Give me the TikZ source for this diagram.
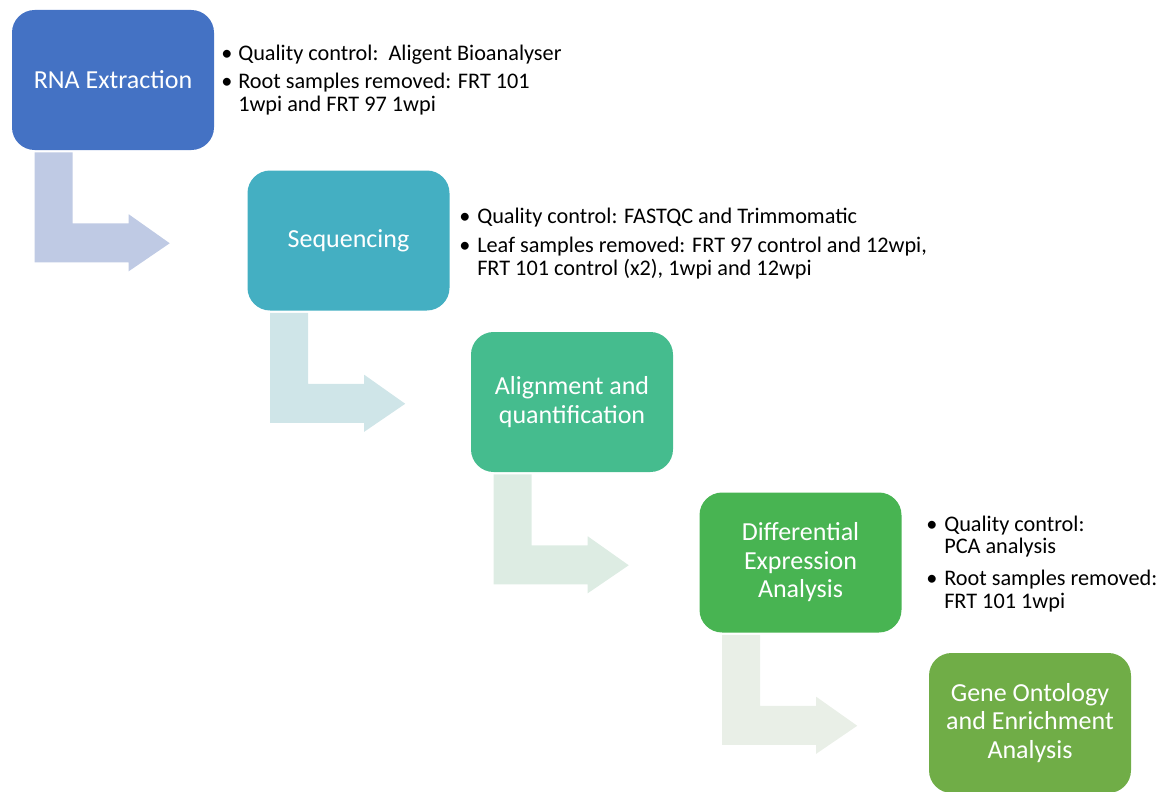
\documentclass[tikz,border=0pt]{standalone}
\usepackage{fontspec}
\setmainfont{Carlito}
\usetikzlibrary{calc}
\definecolor{c1}{RGB}{68,114,196}
\definecolor{c2}{RGB}{68,175,194}
\definecolor{c3}{RGB}{69,188,142}
\definecolor{c4}{RGB}{72,180,82}
\definecolor{c5}{RGB}{112,173,71}
\definecolor{a1}{RGB}{191,202,228}
\definecolor{a2}{RGB}{207,229,232}
\definecolor{a3}{RGB}{221,236,227}
\definecolor{a4}{RGB}{233,239,231}
\newcommand\bentarrow[2]{%
  \fill[#2] ($(#1.south west)+(23,2)$) -- ($(#1.south west)+(61,2)$)
    -- ($(#1.south west)+(61,73)$) -- ($(#1.south west)+(117,73)$)
    -- ($(#1.south west)+(117,64)$) -- ($(#1.south west)+(158,93)$)
    -- ($(#1.south west)+(117,121)$) -- ($(#1.south west)+(117,112)$)
    -- ($(#1.south west)+(23,112)$) -- cycle;}
\begin{document}
\begin{tikzpicture}[x=0.75pt,y=-0.75pt,
  box/.style={rounded corners=17pt, fill=#1, minimum width=151.5pt, minimum height=105pt,
    inner sep=0pt, text=white, align=center, font=\fontsize{19.5}{21.4}\selectfont},
  bl/.style={anchor=base west, inner sep=0pt, font=\fontsize{16.7}{17.4}\selectfont},
  dot/.style={anchor=base, inner sep=0pt, font=\fontsize{16.7}{17.4}\selectfont}]
\useasboundingbox (0,0) rectangle (1175,792);
\node[box=c1] (b1) at (113,80) {RNA Extraction};
\node[box=c2] (b2) at (348.5,240.5) {Sequencing};
\node[box=c3] (b3) at (572,402) {Alignment and\\quantification};
\node[box=c4] (b4) at (800.5,562.5) {Differential\\Expression\\Analysis};
\node[box=c5] (b5) at (1030,723) {Gene Ontology\\and Enrichment\\Analysis};
\bentarrow{b1}{a1}
\bentarrow{b2}{a2}
\bentarrow{b3}{a3}
\bentarrow{b4}{a4}
% notes 1
\node[dot] (d1a) at (227,61) {•};
\node[bl] (t1a) at (238,61) {Quality control:\ \ Aligent Bioanalyser};
\node[dot] (d1b) at (227,89) {•};
\node[bl] (t1b) at (238,89) {Root samples removed: FRT 101};
\node[bl] (t1c) at (238,112) {1wpi and FRT 97 1wpi};
% notes 2
\node[dot] (d2a) at (465,223) {•};
\node[bl] (t2a) at (477,223) {Quality control: FASTQC and Trimmomatic};
\node[dot] (d2b) at (465,252) {•};
\node[bl] (t2b) at (477,252) {Leaf samples removed: FRT 97 control and 12wpi,};
\node[bl] (t2c) at (477,275) {FRT 101 control (x2), 1wpi and 12wpi};
% notes 3
\node[dot] (d3a) at (932,531) {•};
\node[bl] (t3a) at (944,531) {Quality control:};
\node[bl] (t3b) at (944,553) {PCA analysis};
\node[dot] (d3b) at (932,585) {•};
\node[bl] (t3c) at (944,585) {Root samples removed:};
\node[bl] (t3d) at (944,608) {FRT 101 1wpi};
\end{tikzpicture}
\end{document}
